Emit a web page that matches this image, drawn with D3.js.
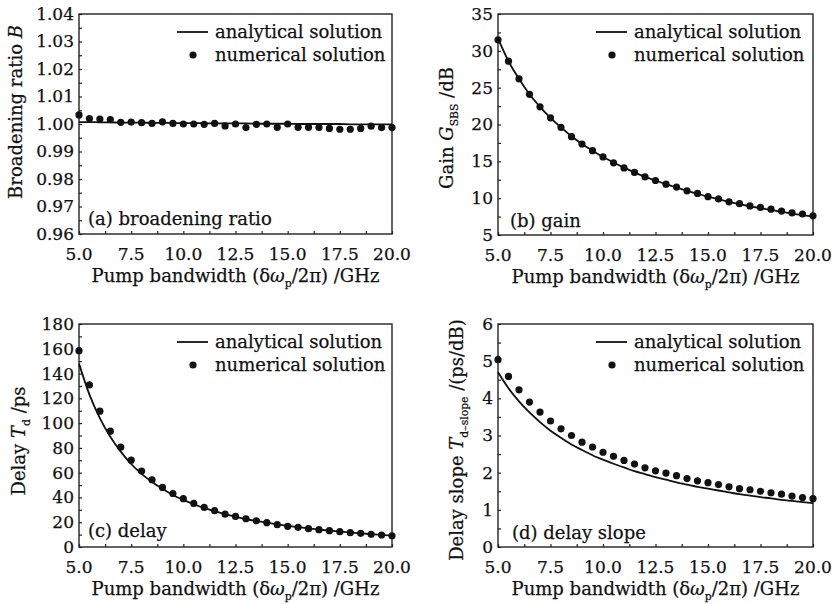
<!DOCTYPE html>
<html>
<head>
<meta charset="utf-8">
<title>SBS slow light vs pump bandwidth</title>
<script src="https://cdn.jsdelivr.net/npm/d3@7"></script>
<style>
  body { margin: 0; background: #fff; }
  svg text { font-family: "DejaVu Serif", "Liberation Serif", serif; fill: #111; stroke: #111; stroke-width: 0.25px; }
</style>
</head>
<body>
<svg id="chart" width="835" height="604"></svg>
<script>
// pump bandwidth (GHz), shared by all four panels
var bandwidth = [5.0, 5.5, 6.0, 6.5, 7.0, 7.5, 8.0, 8.5, 9.0, 9.5, 10.0, 10.5, 11.0, 11.5, 12.0, 12.5,
                 13.0, 13.5, 14.0, 14.5, 15.0, 15.5, 16.0, 16.5, 17.0, 17.5, 18.0, 18.5, 19.0, 19.5, 20.0];

// (a) broadening ratio
var broadeningNum = [1.0033, 1.0020, 1.0018, 1.0016, 1.0006, 1.0007, 1.0005, 1.0002, 1.0008, 1.0002, 1.0000,
                     1.0000, 0.9999, 1.0002, 0.9993, 1.0000, 0.9987, 0.9999, 1.0000, 0.9988, 1.0000, 0.9988,
                     0.9988, 0.9987, 0.9984, 0.9981, 0.9981, 0.9984, 0.9992, 0.9987, 0.9987];
var broadeningAna = [1.0007, 1.0007, 1.0006, 1.0006, 1.0005, 1.0005, 1.0005, 1.0004, 1.0004, 1.0004, 1.0003,
                     1.0003, 1.0003, 1.0002, 1.0002, 1.0002, 1.0002, 1.0001, 1.0001, 1.0001, 1.0001, 1.0000,
                     1.0000, 1.0000, 1.0000, 1.0000, 0.9999, 0.9999, 0.9999, 0.9999, 0.9999];

// (b) gain (dB)
var gainNum = [31.5, 28.6, 26.2, 24.1, 22.4, 20.9, 19.6, 18.35, 17.35, 16.45, 15.6, 14.8, 14.1, 13.5, 12.9, 12.4,
               11.9, 11.5, 11.0, 10.65, 10.2, 9.9, 9.5, 9.25, 8.95, 8.75, 8.5, 8.25, 8.0, 7.85, 7.6];
var gainAna = [31.7, 28.6, 26.2, 24.1, 22.4, 20.9, 19.6, 18.4, 17.35, 16.45, 15.6, 14.85, 14.15, 13.5, 12.9, 12.4,
               11.9, 11.45, 11.0, 10.6, 10.2, 9.85, 9.5, 9.2, 8.9, 8.65, 8.4, 8.15, 7.9, 7.7, 7.5];

// (c) delay (ps)
var delayNum = [158.5, 130.8, 109.6, 93.5, 80.6, 70.1, 61.3, 54.3, 48.1, 43.2, 39.0, 35.2, 32.0, 29.3, 26.6, 24.7,
                22.8, 21.2, 19.6, 18.0, 16.7, 15.9, 14.8, 14.0, 13.2, 12.4, 11.6, 11.0, 10.2, 9.7, 9.1];
var delayAna = [148, 123, 104, 89, 77, 67, 59, 52.5, 47, 42, 38, 34.5, 31.5, 29, 26.5, 24.5,
                22.6, 21, 19.6, 18.3, 17.1, 16, 15, 14.1, 13.2, 12.4, 11.7, 11.0, 10.4, 9.8, 9.2];

// (d) delay slope (ps/dB)
var slopeNum = [5.04, 4.59, 4.23, 3.90, 3.63, 3.39, 3.18, 3.00, 2.82, 2.69, 2.55, 2.44, 2.33, 2.23, 2.13, 2.05,
                1.99, 1.92, 1.84, 1.78, 1.73, 1.68, 1.62, 1.57, 1.54, 1.50, 1.46, 1.42, 1.37, 1.33, 1.30];
var slopeAna = [4.70, 4.27, 3.92, 3.62, 3.36, 3.13, 2.94, 2.76, 2.61, 2.47, 2.35, 2.24, 2.14, 2.04, 1.96, 1.88,
                1.81, 1.74, 1.68, 1.62, 1.57, 1.52, 1.47, 1.42, 1.38, 1.34, 1.31, 1.27, 1.24, 1.21, 1.18];

// tick values
var xTicks = [5.0, 7.5, 10.0, 12.5, 15.0, 17.5, 20.0];
var xMinorTicks = [6.25, 8.75, 11.25, 13.75, 16.25, 18.75];
var broadeningTicks = [0.96, 0.97, 0.98, 0.99, 1.00, 1.01, 1.02, 1.03, 1.04];
var gainTicks = [5, 10, 15, 20, 25, 30, 35];
var delayTicks = [0, 20, 40, 60, 80, 100, 120, 140, 160, 180];
var slopeTicks = [0, 1, 2, 3, 4, 5, 6];

var legendLabels = ["analytical solution", "numerical solution"];

var FS = 18, TICK_FS = 17;
var svg = d3.select("#chart");

var panels = [
  { box: [79, 14, 392, 234], ana: broadeningAna, num: broadeningNum, yDomain: [0.96, 1.04],
    yTicks: broadeningTicks, yFmt: d3.format(".2f"), tag: "(a) broadening ratio",
    title: [["Broadening ratio "], ["B", "italic"]], titleX: 22, titleY: 112, tagDx: 9, tagDy: -9 },
  { box: [498, 14, 813, 235], ana: gainAna, num: gainNum, yDomain: [5, 35],
    yTicks: gainTicks, yFmt: d3.format("d"), tag: "(b) gain",
    title: [["Gain "], ["G", "italic"], ["SBS", "sub"], [" /dB"]], titleX: 453, titleY: 128, tagDx: 12, tagDy: -8 },
  { box: [79, 324, 392, 547], ana: delayAna, num: delayNum, yDomain: [0, 180],
    yTicks: delayTicks, yFmt: d3.format("d"), tag: "(c) delay",
    title: [["Delay "], ["T", "italic"], ["d", "sub"], [" /ps"]], titleX: 25, titleY: 441, tagDx: 9, tagDy: -10 },
  { box: [498, 324, 813, 547], ana: slopeAna, num: slopeNum, yDomain: [0, 6],
    yTicks: slopeTicks, yFmt: d3.format("d"), tag: "(d) delay slope",
    title: [["Delay slope "], ["T", "italic"], ["d\u2013slope", "sub"], [" /(ps/dB)"]], titleX: 463, titleY: 440, tagDx: 14, tagDy: -8 }
];

panels.forEach(drawPanel);

// write rich text (italic / subscript pieces) into a text element
function richText(text, parts, size) {
  var shifted = false;
  parts.forEach(function(p) {
    var t = text.append("tspan").text(p[0]);
    if (p[1] == "italic") t.style("font-style", "italic");
    if (p[1] == "sub") {
      t.attr("font-size", size * 0.6).attr("dy", size * 0.27);
      shifted = true;
    } else if (shifted) {
      t.attr("dy", -size * 0.27);
      shifted = false;
    }
  });
}

function drawPanel(p) {
  var left = p.box[0], top = p.box[1], right = p.box[2], bottom = p.box[3];

  var x = d3.scaleLinear().domain([5, 20]).range([left, right]);
  var y = d3.scaleLinear().domain(p.yDomain).range([bottom, top]);

  var g = svg.append("g");

  // inward ticks on the bottom and left
  var yStep = p.yTicks[1] - p.yTicks[0];
  var yMinor = p.yTicks.slice(0, -1).map(function(v) { return v + yStep / 2; });

  g.append("g")
      .attr("transform", "translate(0," + bottom + ")")
      .call(d3.axisBottom(x).tickValues(xTicks.concat(xMinorTicks)).tickSize(-3).tickFormat(""))
      .call(function(a) { a.select(".domain").remove(); a.selectAll("line").attr("stroke", "#222").attr("stroke-width", 1.2); });

  g.append("g")
      .attr("transform", "translate(" + left + ",0)")
      .call(d3.axisLeft(y).tickValues(p.yTicks.concat(yMinor)).tickSize(-3).tickFormat(""))
      .call(function(a) { a.select(".domain").remove(); a.selectAll("line").attr("stroke", "#222").attr("stroke-width", 1.2); });

  // tick labels
  g.selectAll(".xl").data(xTicks).enter().append("text")
      .attr("x", function(d) { return x(d); })
      .attr("y", bottom + 26)
      .attr("text-anchor", "middle")
      .attr("font-size", TICK_FS)
      .text(d3.format(".1f"));

  g.selectAll(".yl").data(p.yTicks).enter().append("text")
      .attr("x", left - 5)
      .attr("y", function(d) { return y(d); })
      .attr("dy", "0.35em")
      .attr("text-anchor", "end")
      .attr("font-size", TICK_FS)
      .text(p.yFmt);

  // frame
  g.append("rect")
      .attr("x", left).attr("y", top)
      .attr("width", right - left).attr("height", bottom - top)
      .attr("fill", "none").attr("stroke", "#222").attr("stroke-width", 1.4);

  // analytical curve
  var line = d3.line()
      .x(function(d, i) { return x(bandwidth[i]); })
      .y(function(d) { return y(d); })
      .curve(d3.curveMonotoneX);

  g.append("path")
      .datum(p.ana)
      .attr("d", line)
      .attr("fill", "none")
      .attr("stroke", "#111")
      .attr("stroke-width", 1.8);

  // numerical points
  g.selectAll(".dot").data(p.num).enter().append("circle")
      .attr("cx", function(d, i) { return x(bandwidth[i]); })
      .attr("cy", function(d) { return y(d); })
      .attr("r", 3.6)
      .attr("fill", "#111");

  // legend
  g.append("line")
      .attr("x1", left + 98).attr("x2", left + 129)
      .attr("y1", top + 18).attr("y2", top + 18)
      .attr("stroke", "#111").attr("stroke-width", 1.8);
  g.append("circle")
      .attr("cx", left + 114).attr("cy", top + 41).attr("r", 3.6).attr("fill", "#111");
  g.append("text").attr("x", left + 136).attr("y", top + 24).attr("font-size", FS).text(legendLabels[0]);
  g.append("text").attr("x", left + 136).attr("y", top + 47).attr("font-size", FS).text(legendLabels[1]);

  // panel tag
  g.append("text")
      .attr("x", left + p.tagDx).attr("y", bottom + p.tagDy)
      .attr("font-size", FS)
      .text(p.tag);

  // x title
  var xt = g.append("text")
      .attr("x", (left + right) / 2).attr("y", bottom + 48)
      .attr("text-anchor", "middle")
      .attr("font-size", FS);
  richText(xt, [["Pump bandwidth (\u03b4"], ["\u03c9", "italic"], ["p", "sub"], ["/2\u03c0) /GHz"]], FS);

  // y title
  var yt = g.append("text")
      .attr("transform", "translate(" + p.titleX + "," + p.titleY + ") rotate(-90)")
      .attr("text-anchor", "middle")
      .attr("font-size", FS);
  richText(yt, p.title, FS);
}
</script>
</body>
</html>
